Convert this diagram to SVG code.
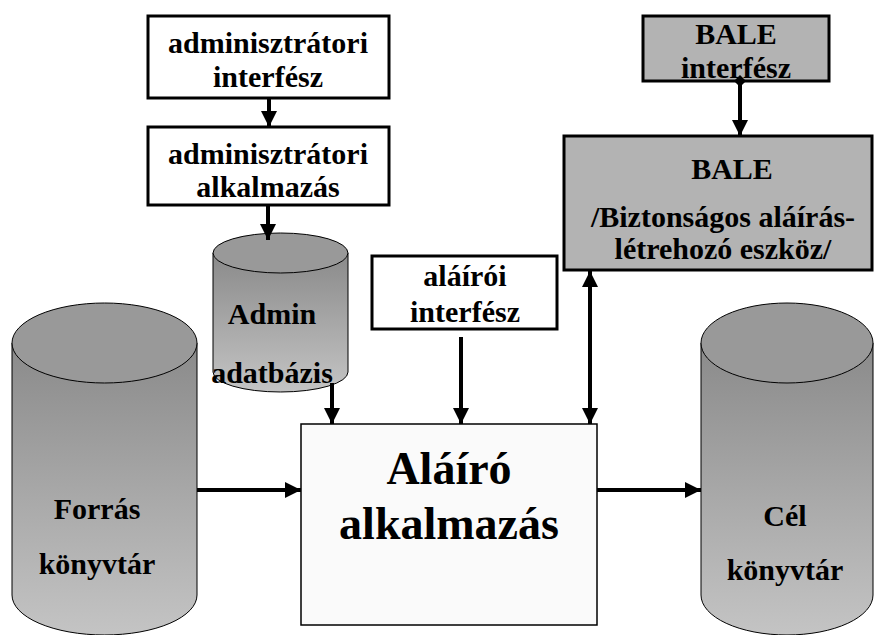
<svg xmlns="http://www.w3.org/2000/svg" width="874" height="635" viewBox="0 0 874 635">
<defs>
<linearGradient id="cyl" x1="0" y1="0" x2="0" y2="1">
<stop offset="0" stop-color="#8a8a8a"/>
<stop offset="1" stop-color="#c4c4c4"/>
</linearGradient>
<marker id="arr" viewBox="0 0 16 16" refX="16" refY="8" markerWidth="16" markerHeight="16" orient="auto-start-reverse" markerUnits="userSpaceOnUse">
<path d="M0,0 L16,8 L0,16 z" fill="#000"/>
</marker>
<marker id="dia" viewBox="0 0 12 12" refX="6" refY="6" markerWidth="12" markerHeight="12" orient="auto" markerUnits="userSpaceOnUse">
<path d="M0,6 L6,0 L12,6 L6,12 z" fill="#000"/>
</marker>
</defs>

<g text-anchor="middle" fill="#000">
<g id="admin-interfesz">
<rect x="148" y="16" width="241" height="82" fill="#fff" stroke="#000" stroke-width="3"/>
<text x="268" y="53" font-family="Liberation Serif, serif" font-weight="bold" font-size="30" style="font-family:'Liberation Serif',serif;font-weight:bold">adminisztrátori</text>
<text x="268" y="87" font-family="Liberation Serif, serif" font-weight="bold" font-size="30" style="font-family:'Liberation Serif',serif;font-weight:bold">interfész</text>
</g>

<g id="admin-alkalmazas">
<rect x="148" y="127" width="241" height="78" fill="#fff" stroke="#000" stroke-width="3"/>
<text x="268" y="164" font-family="Liberation Serif, serif" font-weight="bold" font-size="30" style="font-family:'Liberation Serif',serif;font-weight:bold">adminisztrátori</text>
<text x="268" y="197" font-family="Liberation Serif, serif" font-weight="bold" font-size="30" style="font-family:'Liberation Serif',serif;font-weight:bold">alkalmazás</text>
</g>

<g id="bale-interfesz">
<rect x="643" y="16" width="186" height="65" fill="#b3b3b3" stroke="#000" stroke-width="3"/>
<text x="736" y="44" font-family="Liberation Serif, serif" font-weight="bold" font-size="30" style="font-family:'Liberation Serif',serif;font-weight:bold">BALE</text>
<text x="736" y="78" font-family="Liberation Serif, serif" font-weight="bold" font-size="30" style="font-family:'Liberation Serif',serif;font-weight:bold">interfész</text>
</g>

<g id="bale">
<rect x="564" y="136" width="308" height="134" fill="#b3b3b3" stroke="#000" stroke-width="3"/>
<text x="732" y="179" font-family="Liberation Serif, serif" font-weight="bold" font-size="30" style="font-family:'Liberation Serif',serif;font-weight:bold">BALE</text>
<text x="723" y="227" font-family="Liberation Serif, serif" font-weight="bold" font-size="30" style="font-family:'Liberation Serif',serif;font-weight:bold">/Biztonságos aláírás-</text>
<text x="723" y="259" font-family="Liberation Serif, serif" font-weight="bold" font-size="30" style="font-family:'Liberation Serif',serif;font-weight:bold">létrehozó eszköz/</text>
</g>

<g id="admin-adatbazis">
<path d="M213,253 L213,372 A67.5,20 0 0 0 348,372 L348,253 z" fill="url(#cyl)" stroke="#000" stroke-width="1"/>
<ellipse cx="280.5" cy="253" rx="67.5" ry="20" fill="#999" stroke="#000" stroke-width="1"/>
<text x="272" y="324" font-family="Liberation Serif, serif" font-weight="bold" font-size="30" style="font-family:'Liberation Serif',serif;font-weight:bold">Admin</text>
<text x="272" y="383" font-family="Liberation Serif, serif" font-weight="bold" font-size="30" style="font-family:'Liberation Serif',serif;font-weight:bold">adatbázis</text>
</g>

<g id="alairoi-interfesz">
<rect x="372" y="256" width="185" height="73" fill="#fff" stroke="#000" stroke-width="3"/>
<text x="465" y="286" font-family="Liberation Serif, serif" font-weight="bold" font-size="30" style="font-family:'Liberation Serif',serif;font-weight:bold">aláírói</text>
<text x="465" y="322" font-family="Liberation Serif, serif" font-weight="bold" font-size="30" style="font-family:'Liberation Serif',serif;font-weight:bold">interfész</text>
</g>

<g id="forras">
<path d="M12,343 L12,595 A92.5,40 0 0 0 197,595 L197,343 z" fill="url(#cyl)" stroke="#000" stroke-width="1"/>
<ellipse cx="104.5" cy="343" rx="92.5" ry="40" fill="#999" stroke="#000" stroke-width="1"/>
<text x="97" y="519" font-family="Liberation Serif, serif" font-weight="bold" font-size="30" style="font-family:'Liberation Serif',serif;font-weight:bold">Forrás</text>
<text x="97" y="574" font-family="Liberation Serif, serif" font-weight="bold" font-size="30" style="font-family:'Liberation Serif',serif;font-weight:bold">könyvtár</text>
</g>

<g id="cel">
<path d="M701,343 L701,595 A86,40 0 0 0 873,595 L873,343 z" fill="url(#cyl)" stroke="#000" stroke-width="1"/>
<ellipse cx="787" cy="343" rx="86" ry="40" fill="#999" stroke="#000" stroke-width="1"/>
<text x="785" y="526" font-family="Liberation Serif, serif" font-weight="bold" font-size="30" style="font-family:'Liberation Serif',serif;font-weight:bold">Cél</text>
<text x="785" y="580" font-family="Liberation Serif, serif" font-weight="bold" font-size="30" style="font-family:'Liberation Serif',serif;font-weight:bold">könyvtár</text>
</g>

<g id="alairo-alkalmazas">
<rect x="301" y="424" width="296" height="201" fill="#fafafa" stroke="#000" stroke-width="1.5"/>
<text x="449" y="484" font-family="Liberation Serif, serif" font-weight="bold" font-size="46" style="font-family:'Liberation Serif',serif;font-weight:bold">Aláíró</text>
<text x="449" y="539" font-family="Liberation Serif, serif" font-weight="bold" font-size="46" style="font-family:'Liberation Serif',serif;font-weight:bold">alkalmazás</text>
</g>
</g>

<g id="connectors" stroke="#000" stroke-width="4" fill="none">
<line x1="269" y1="98" x2="269" y2="127" marker-end="url(#arr)"/>
<line x1="268" y1="205" x2="268" y2="240" marker-end="url(#arr)"/>
<line x1="740" y1="81" x2="740" y2="136" marker-start="url(#dia)" marker-end="url(#arr)"/>
<line x1="332" y1="383" x2="332" y2="424" marker-end="url(#arr)"/>
<line x1="461" y1="337" x2="461" y2="424" marker-end="url(#arr)"/>
<line x1="590" y1="271" x2="590" y2="424" marker-start="url(#arr)" marker-end="url(#arr)"/>
<line x1="197" y1="490" x2="301" y2="490" marker-end="url(#arr)"/>
<line x1="597" y1="490" x2="701" y2="490" marker-end="url(#arr)"/>
</g>
</svg>
